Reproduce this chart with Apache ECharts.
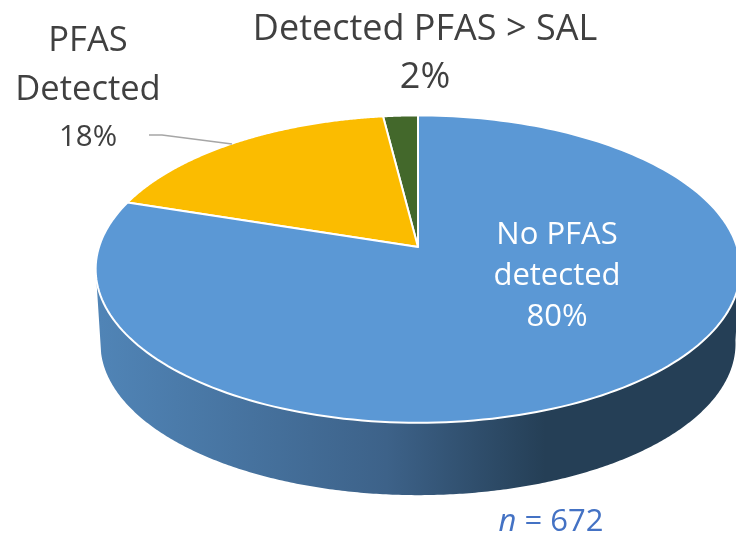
<!DOCTYPE html>
<html>
<head>
<meta charset="utf-8">
<style>
html, body { margin: 0; padding: 0; background: #fff; }
#main { width: 736px; height: 535px; }
</style>
<script src="https://cdn.jsdelivr.net/npm/echarts@6/dist/echarts.min.js"></script>
</head>
<body>
<div id="main"></div>
<script>
// clockwise from 12 o'clock, same order as the original pie
var sliceNames = ['Detected PFAS > SAL', 'PFAS Detected', 'No PFAS detected'];
var sliceValues = [2, 18, 80];
var sliceColors = ['#43682b', '#fbbc00', '#5b98d5'];

var myChart = echarts.init(document.getElementById('main'), null, { renderer: 'canvas' });

// the tilted disc: unit circle seen with a little perspective
var disc = { x: 418, y: 247, a: 319, b: 150.5, k: 0.1438 };
var wallDepth = 75;
var wallShrink = 0.985;

function project(deg, drop, scale) {
    var r = deg * Math.PI / 180;
    var u = Math.sin(r), v = Math.cos(r);
    var w = 1 + disc.k * v;
    return [
        disc.x + scale * disc.a * u / w,
        disc.y + drop - scale * disc.b * v / w
    ];
}

var total = sliceValues.reduce(function (s, v) { return s + v; }, 0);
var sliceRows = [];
var running = 0;
for (var i = 0; i < sliceValues.length; i++) {
    // angles run backwards from 360 so the small slices sit left of the top
    sliceRows.push([i, running, running + sliceValues[i]]);
    running += sliceValues[i];
}
function toDeg(share) { return 360 - share / total * 360; }

function renderSlice(params, api) {
    var from = toDeg(api.value(2)), to = toDeg(api.value(1));
    var pts = [[disc.x, disc.y]];
    for (var d = from; d <= to + 0.001; d += Math.max((to - from) / 200, 0.2)) {
        pts.push(project(d, 0, 1));
    }
    pts.push(project(to, 0, 1));
    return {
        type: 'polygon',
        shape: { points: pts },
        style: { fill: sliceColors[api.value(0)], stroke: '#fff', lineWidth: 2, lineJoin: 'round' }
    };
}

function renderWall(params, api) {
    // only the part of each slice facing the viewer has a visible wall
    var from = Math.max(toDeg(api.value(2)), 97), to = Math.min(toDeg(api.value(1)), 258);
    if (from >= to) { return null; }
    var top = [], bottom = [];
    for (var d = from; d <= to + 0.001; d += 0.5) {
        top.push(project(d, 0, 1));
        bottom.unshift(project(d, wallDepth, wallShrink));
    }
    return {
        type: 'polygon',
        shape: { points: top.concat(bottom) },
        style: {
            fill: new echarts.graphic.LinearGradient(100, 0, 736, 0, [
                { offset: 0, color: '#5084b6' },
                { offset: 0.45, color: '#3d6289' },
                { offset: 0.7, color: '#253f56' },
                { offset: 1, color: '#253f56' }
            ], true)
        }
    };
}

var labelFont = '"Open Sans", "Noto Sans", sans-serif';

function labelText(text, x, y, color, size, lineHeight) {
    return {
        type: 'text',
        x: x,
        y: y,
        z: 10,
        style: {
            text: text,
            fill: color,
            font: size + 'px ' + labelFont,
            align: 'center',
            verticalAlign: 'middle',
            lineHeight: lineHeight
        }
    };
}

var option = {
    animation: false,
    backgroundColor: '#ffffff',
    series: [
        {
            type: 'custom',
            coordinateSystem: 'none',
            silent: true,
            clip: false,
            z: 1,
            data: sliceRows,
            renderItem: renderWall
        },
        {
            type: 'custom',
            coordinateSystem: 'none',
            silent: true,
            clip: false,
            z: 2,
            data: sliceRows,
            renderItem: renderSlice
        }
    ],
    graphic: {
        elements: [
            labelText('Detected PFAS > SAL\n2%', 425, 54, '#404040', 36, 48),
            labelText('PFAS\nDetected', 88, 66, '#404040', 34.5, 49),
            labelText('18%', 88, 138, '#404040', 29.5, 40),
            labelText('No PFAS\ndetected\n80%', 557, 276, '#ffffff', 31, 41),
            {
                type: 'polyline',
                z: 10,
                shape: { points: [[149, 135], [162, 135], [232, 144]] },
                style: { stroke: '#a6a6a6', lineWidth: 1.5, fill: null }
            },
            {
                type: 'text',
                x: 551,
                y: 522,
                z: 10,
                style: {
                    text: '{i|n} = 672',
                    fill: '#4472c4',
                    font: '31px ' + labelFont,
                    align: 'center',
                    verticalAlign: 'middle',
                    rich: {
                        i: { fontStyle: 'italic', fill: '#4472c4', font: 'italic 31px ' + labelFont }
                    }
                }
            }
        ]
    }
};

if (option && typeof option === 'object') {
    myChart.setOption(option);
}
window.addEventListener('resize', myChart.resize);
</script>
</body>
</html>
